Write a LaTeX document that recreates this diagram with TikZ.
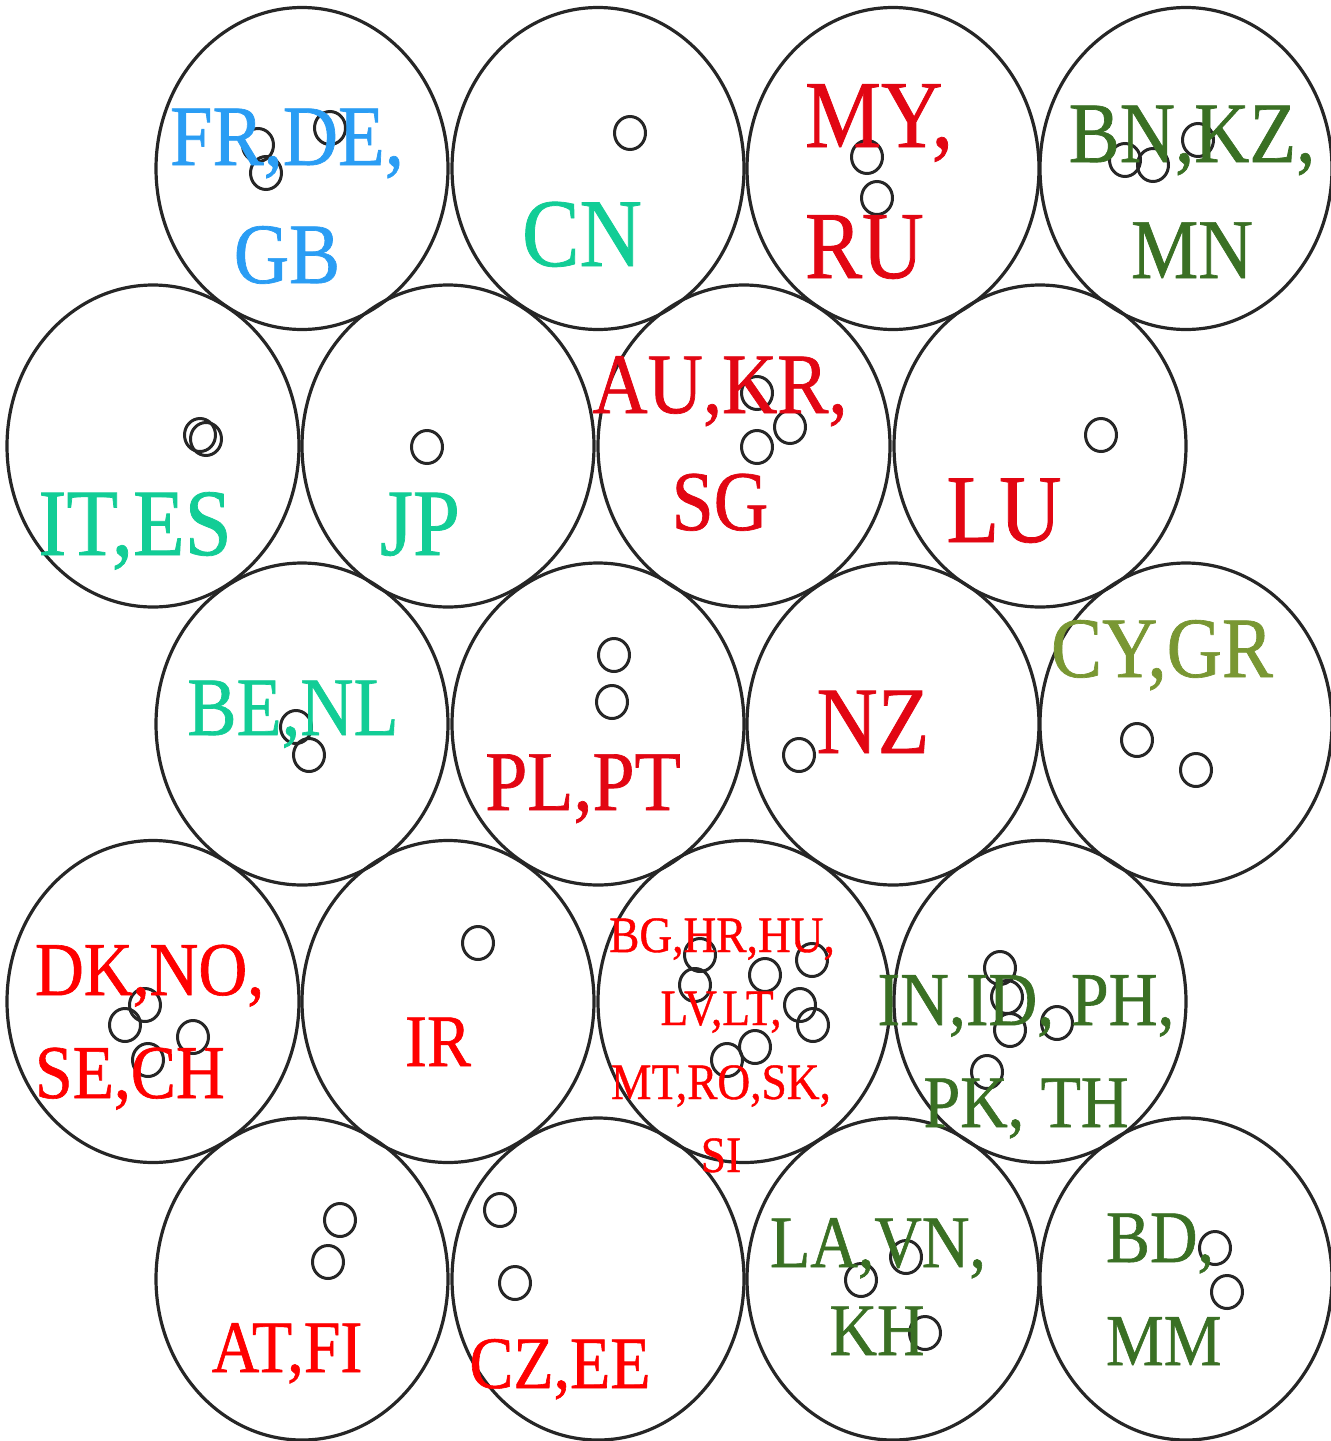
\documentclass[tikz,border=0pt]{standalone}
\usepackage{fontspec}
\setmainfont{Liberation Serif}[FakeStretch=0.89,FakeBold=0.8]
\definecolor{blueC}{RGB}{42,157,244}
\definecolor{tealC}{RGB}{18,205,150}
\definecolor{dredC}{RGB}{226,6,19}
\definecolor{redC}{RGB}{255,0,0}
\definecolor{dgreenC}{RGB}{58,112,36}
\definecolor{oliveC}{RGB}{121,151,51}
\tikzset{
  bigc/.style={draw=black!85, line width=3.2pt},
  dotc/.style={draw=black!85, line width=3pt},
  lbl/.style={anchor=base, inner sep=0pt, outer sep=0pt},
  lblw/.style={anchor=base west, inner sep=0pt, outer sep=0pt},
  fs/.style={font=\fontsize{#1}{#1}\selectfont}
}
\begin{document}
\begin{tikzpicture}[x=1pt,y=-1pt]
\useasboundingbox (0,0) rectangle (1331,1441);
% big map units
\foreach \cy in {168.5,724,1279}{
  \foreach \cx in {302,598,893,1186}{
    \draw[bigc] (\cx,\cy) ellipse [x radius=146, y radius=161];
  }
}
\foreach \cy in {446,1001.5}{
  \foreach \cx in {153,448,744,1040}{
    \draw[bigc] (\cx,\cy) ellipse [x radius=146, y radius=161];
  }
}
% small hit markers
\foreach \p in {(330,128),(258,145),(266,173),(630,133),(867,157),(877,198),
  (1125,160),(1153,165),(1198,140),
  (200,435),(206,439),(427,447),(757,393),(790,427),(757,447),(1101,435),
  (296,727),(309,755),(614,655),(612,702),(799,755),(1137,740),(1196,770),
  (145,1005),(125,1025),(193,1037),(148,1060),(478,943),
  (700,955),(695,985),(765,975),(812,960),(800,1005),(813,1025),(755,1047),(727,1060),
  (1000,968),(1007,997),(1010,1030),(1057,1023),(987,1072),
  (340,1220),(328,1262),(500,1210),(515,1283),
  (861,1280),(906,1257),(925,1333),(1215,1248),(1227,1292)}{
  \draw[dotc] \p ellipse [x radius=15.5, y radius=16.5];
}
% labels
\node[lbl, fs=86, text=blueC] (fr1) at (287,165) {FR,DE,};
\node[lbl, fs=86, text=blueC] (fr2) at (287,283) {GB};
\node[lbl, fs=97, text=tealC] (cn) at (582,266) {CN};
\node[lblw, fs=96, text=dredC] (my1) at (805,147) {MY,};
\node[lblw, fs=96, text=dredC] (my2) at (805,278) {RU};
\node[lbl, fs=86, text=dgreenC] (bn1) at (1192,162) {BN,KZ,};
\node[lbl, fs=85, text=dgreenC] (bn2) at (1192,278) {MN};
\node[lbl, fs=95, text=tealC] (it) at (135,555) {IT,ES};
\node[lbl, fs=95, text=tealC] (jp) at (420,555) {JP};
\node[lbl, fs=86, text=dredC] (au1) at (720,413) {AU,KR,};
\node[lbl, fs=85, text=dredC] (au2) at (720,530) {SG};
\node[lbl, fs=97, text=dredC] (lu) at (1004,542) {LU};
\node[lbl, fs=83, text=tealC] (be) at (293,735) {BE,NL};
\node[lbl, fs=85, text=dredC] (pl) at (583,810) {PL,PT};
\node[lbl, fs=95, text=dredC] (nz) at (873,753) {NZ};
\node[lbl, fs=86, text=oliveC] (cy) at (1162,677) {CY,GR};
\node[lblw, fs=76, text=redC] (dk1) at (35,995) {DK,NO,};
\node[lblw, fs=76, text=redC] (dk2) at (35,1098) {SE,CH};
\node[lbl, fs=74, text=redC] (ir) at (438,1066) {IR};
\node[lbl, fs=51, text=redC] (bg1) at (722,952) {BG,HR,HU,};
\node[lbl, fs=51, text=redC] (bg2) at (721,1025) {LV,LT,};
\node[lbl, fs=51, text=redC] (bg3) at (721,1099) {MT,RO,SK,};
\node[lbl, fs=51, text=redC] (bg4) at (721,1172) {SI};
\node[lbl, fs=76, text=dgreenC] (in1) at (1026,1025) {IN,ID, PH,};
\node[lbl, fs=74, text=dgreenC] (in2) at (1026,1127) {PK, TH};
\node[lbl, fs=74, text=redC] (at) at (287,1372) {AT,FI};
\node[lbl, fs=74, text=redC] (cz) at (560,1388) {CZ,EE};
\node[lbl, fs=74, text=dgreenC] (la1) at (878,1267) {LA,VN,};
\node[lbl, fs=74, text=dgreenC] (la2) at (877,1355) {KH};
\node[lblw, fs=74, text=dgreenC] (bd1) at (1106,1262) {BD,};
\node[lblw, fs=73, text=dgreenC] (bd2) at (1106,1365) {MM};
\end{tikzpicture}
\end{document}
